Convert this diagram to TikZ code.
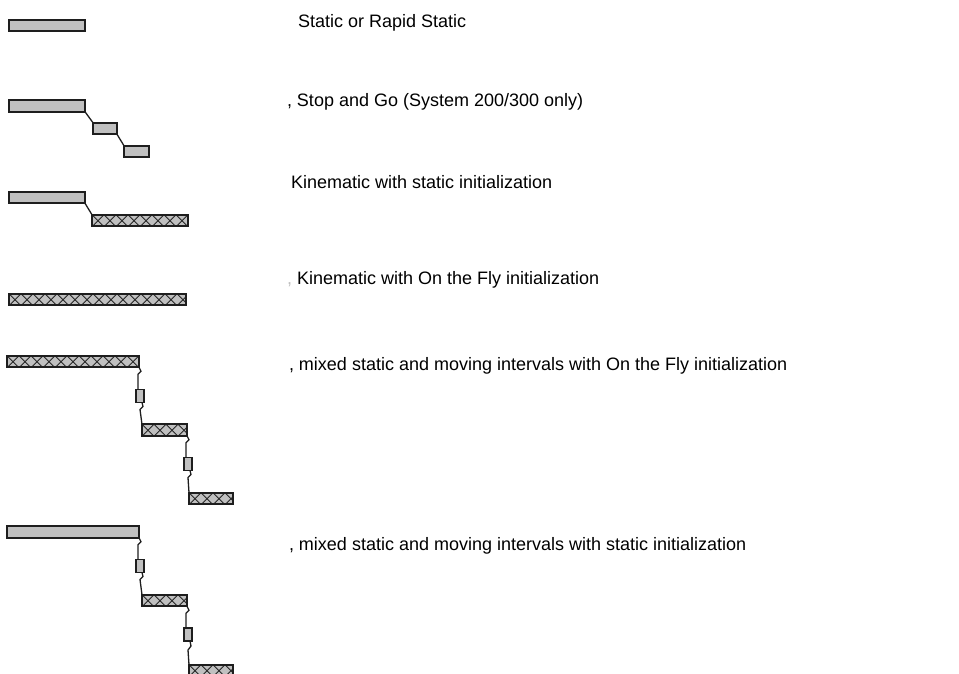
\documentclass[tikz,border=0pt]{standalone}
\usepackage{fontspec}
\setmainfont{Liberation Sans}
\definecolor{barfill}{HTML}{C0C0C0}
\definecolor{edge}{HTML}{1E1E1E}
\begin{document}
\begin{tikzpicture}[
  x=1pt, y=-1pt,
  every node/.style={inner sep=0pt, outer sep=0pt},
  label/.style={anchor=base west, font=\fontsize{18}{22}\selectfont},
  statbar/.style={draw=edge, line width=1.8pt, fill=barfill, rectangle, minimum height=11.5pt},
  movebar/.style={statbar, path picture={
      \foreach \k in {0,...,20} {
        \draw[black!85, line width=0.9pt] ([xshift=\k*12pt]path picture bounding box.north west) -- ++(12pt,-12pt);
        \draw[black!85, line width=0.9pt] ([xshift=\k*12pt+12pt]path picture bounding box.north west) -- ++(-12pt,-12pt);
      }}},
  link/.style={draw=edge, line width=1.3pt}
]
\useasboundingbox (0,0) rectangle (959,673);
\clip (0,0) rectangle (959,673);

\node[statbar, minimum width=76pt] (s1) at (47,25.5) {};
\node[label] (t1) at (298,27) {Static or Rapid Static};

\node[statbar, minimum width=76pt] (g1) at (47,106) {};
\node[statbar, minimum width=24pt] (g2) at (105,128.5) {};
\node[statbar, minimum width=25pt] (g3) at (136.5,151.5) {};
\node[label] (t2) at (287,106) {, Stop and Go (System 200/300 only)};

\node[statbar, minimum width=76pt] (k1) at (47,197.5) {};
\node[movebar, minimum width=96pt] (k2) at (140,220.5) {};
\node[label] (t3) at (291,188) {Kinematic with static initialization};

\node[movebar, minimum width=177pt] (f1) at (97.5,299.5) {};
\node[label] (t4) at (287,284) {\textcolor{black!25}{,} Kinematic with On the Fly initialization};

\node[movebar, minimum width=132pt] (m1) at (73,361.5) {};
\node[statbar, minimum width=8pt, minimum height=13pt] (m2) at (140,396) {};
\node[movebar, minimum width=45pt] (m3) at (164.5,430) {};
\node[statbar, minimum width=8pt, minimum height=13pt] (m4) at (188,464) {};
\node[movebar, minimum width=44pt] (m5) at (211,498.5) {};
\node[label] (t5) at (289,370) {, mixed static and moving intervals with On the Fly initialization};

\node[statbar, minimum width=132pt] (n1) at (73,532) {};
\node[statbar, minimum width=8pt, minimum height=13pt] (n2) at (140,566) {};
\node[movebar, minimum width=45pt] (n3) at (164.5,600.5) {};
\node[statbar, minimum width=8pt, minimum height=13pt] (n4) at (188,634.5) {};
\node[movebar, minimum width=44pt] (n5) at (211,670.5) {};
\node[label] (t6) at (289,550) {, mixed static and moving intervals with static initialization};

\draw[link] (g1.south east) -- (g2.north west);
\draw[link] (g2.south east) -- (g3.north west);
\draw[link] (k1.south east) -- (k2.north west);

\draw[link] (m1.south east) -- ++(2,4) -- ++(-3,3) -- ([xshift=-2pt]m2.north);
\draw[link] ([xshift=2pt]m2.south) -- ++(1,4) -- ++(-3,3) -- (m3.north west);
\draw[link] (m3.south east) -- ++(2,4) -- ++(-3,3) -- ([xshift=-2pt]m4.north);
\draw[link] ([xshift=2pt]m4.south) -- ++(1,4) -- ++(-3,3) -- (m5.north west);

\draw[link] (n1.south east) -- ++(2,4) -- ++(-3,3) -- ([xshift=-2pt]n2.north);
\draw[link] ([xshift=2pt]n2.south) -- ++(1,4) -- ++(-3,3) -- (n3.north west);
\draw[link] (n3.south east) -- ++(2,4) -- ++(-3,3) -- ([xshift=-2pt]n4.north);
\draw[link] ([xshift=2pt]n4.south) -- ++(1,5) -- ++(-3,4) -- (n5.north west);
\end{tikzpicture}
\end{document}
